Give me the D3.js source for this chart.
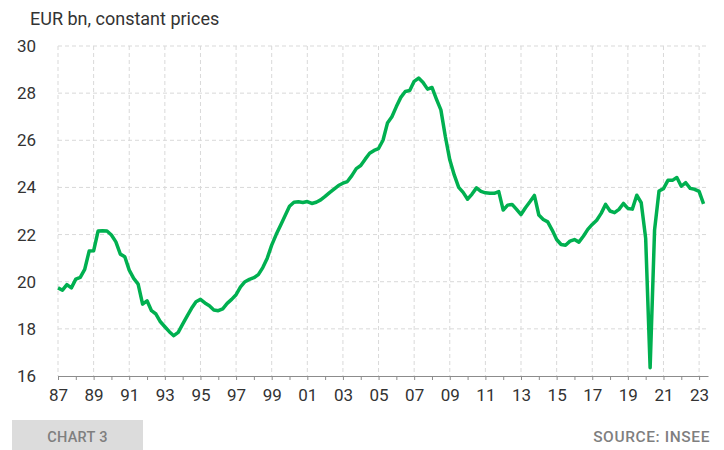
<!DOCTYPE html>
<html>
<head>
<meta charset="utf-8">
<script src="https://cdn.jsdelivr.net/npm/d3@7"></script>
<style>
  body { margin: 0; background: #fff; }
  svg { display: block; font-family: Roboto, "Noto Sans", sans-serif; }
  .grid line { stroke: #d9d9d9; stroke-dasharray: 4 3; stroke-width: 1; }
</style>
</head>
<body>
<svg id="svg-main" width="724" height="450"></svg>
<script>
// quarterly series, 1987Q1 .. 2023Q2
const startYear = 1987;
const values = [
  19.74, 19.64, 19.88, 19.74, 20.11, 20.18, 20.52, 21.3,
  21.31, 22.15, 22.16, 22.15, 21.98, 21.69, 21.17, 21.06,
  20.49, 20.14, 19.9, 19.05, 19.19, 18.77, 18.63, 18.3,
  18.09, 17.88, 17.71, 17.85, 18.2, 18.54, 18.87, 19.15,
  19.25, 19.1, 18.98, 18.8, 18.77, 18.85, 19.08, 19.25,
  19.45, 19.78, 20.0, 20.1, 20.17, 20.3, 20.6, 21.0,
  21.55, 22.0, 22.4, 22.8, 23.2, 23.37, 23.39, 23.36,
  23.4, 23.32, 23.37, 23.47, 23.62, 23.78, 23.93, 24.08,
  24.18, 24.25, 24.5, 24.8, 24.93, 25.2, 25.45, 25.57,
  25.65, 26.0, 26.73, 27.0, 27.43, 27.82, 28.07, 28.11,
  28.5, 28.64, 28.45, 28.17, 28.24, 27.75, 27.29, 26.16,
  25.17, 24.53, 24.0, 23.79, 23.5, 23.72, 23.98, 23.83,
  23.77, 23.75, 23.75, 23.82, 23.04, 23.25, 23.28, 23.07,
  22.85, 23.14, 23.39, 23.66, 22.83, 22.64, 22.54, 22.19,
  21.79, 21.58, 21.55, 21.72, 21.79, 21.68, 21.93, 22.22,
  22.43, 22.61, 22.9, 23.28, 23.0, 22.93, 23.07, 23.32,
  23.11, 23.08, 23.67, 23.35, 21.84, 16.35, 22.2, 23.85,
  23.95, 24.3, 24.3, 24.42, 24.05, 24.2, 23.96, 23.92,
  23.83, 23.3
];
const yTicks = [16, 18, 20, 22, 24, 26, 28, 30];
const labelYears = d3.range(1987, 2024, 2);
const minorYears = d3.range(1987, 2024, 1);
const unitLabel = "EUR bn, constant prices";
const chartLabel = "CHART 3";
const sourceLabel = "SOURCE: INSEE";

const data = values.map(function (v, i) {
  return { t: startYear + i / 4, v: v };
});

const svg = d3.select("#svg-main");
const plotLeft = 58, plotRight = 708, plotTop = 46, plotBottom = 376;

const x = d3.scaleLinear().domain([1987, 2023.5]).range([plotLeft, plotRight]);
const y = d3.scaleLinear().domain([16, 30]).range([plotBottom, plotTop]);

// horizontal grid
svg.append("g")
  .attr("class", "grid")
  .selectAll("line")
  .data(yTicks.filter(function (d) { return d > 16; }))
  .enter()
  .append("line")
  .attr("x1", plotLeft)
  .attr("x2", plotRight)
  .attr("y1", function (d) { return y(d); })
  .attr("y2", function (d) { return y(d); });

// vertical grid
svg.append("g")
  .attr("class", "grid")
  .selectAll("line")
  .data(labelYears)
  .enter()
  .append("line")
  .attr("x1", function (d) { return x(d); })
  .attr("x2", function (d) { return x(d); })
  .attr("y1", plotTop)
  .attr("y2", plotBottom);

// x axis: yearly ticks, labels every two years
const xAxis = svg.append("g")
  .attr("transform", "translate(0," + plotBottom + ")")
  .call(d3.axisBottom(x)
    .tickValues(minorYears)
    .tickSize(4)
    .tickSizeOuter(0)
    .tickFormat(function (d) {
      return d % 2 === 1 ? String(d).slice(2) : "";
    }));
xAxis.select(".domain").attr("stroke", "#8c8c8c").attr("stroke-width", 1.2);
xAxis.selectAll(".tick line").attr("stroke", "#8c8c8c");
xAxis.selectAll(".tick text")
  .attr("fill", "#333")
  .attr("font-size", 17)
  .attr("font-family", "Roboto")
  .attr("dy", "0.71em")
  .attr("y", 13);

// y axis labels
const yAxis = svg.append("g")
  .attr("transform", "translate(36,0)")
  .call(d3.axisLeft(y).tickValues(yTicks).tickSize(0).tickPadding(0));
yAxis.select(".domain").remove();
yAxis.selectAll(".tick text")
  .attr("fill", "#333")
  .attr("font-size", 17)
  .attr("font-family", "Roboto");

// series line
svg.append("path")
  .datum(data)
  .attr("fill", "none")
  .attr("stroke", "#00b050")
  .attr("stroke-width", 3.5)
  .attr("stroke-linejoin", "round")
  .attr("d", d3.line()
    .x(function (d) { return x(d.t); })
    .y(function (d) { return y(d.v); }));

// unit title
svg.append("text")
  .attr("x", 30)
  .attr("y", 25)
  .attr("fill", "#333")
  .attr("font-size", 18)
  .text(unitLabel);

// footer
svg.append("rect")
  .attr("x", 12)
  .attr("y", 420)
  .attr("width", 131)
  .attr("height", 30)
  .attr("fill", "#dcdcdc");

svg.append("text")
  .attr("x", 77.5)
  .attr("y", 442)
  .attr("text-anchor", "middle")
  .attr("fill", "#7f7f7f")
  .attr("font-size", 14.5)
  .attr("font-weight", 500)
  .attr("letter-spacing", 0.3)
  .text(chartLabel);

svg.append("text")
  .attr("x", 710)
  .attr("y", 442)
  .attr("text-anchor", "end")
  .attr("fill", "#7f7f7f")
  .attr("font-size", 15.5)
  .attr("font-weight", 500)
  .attr("letter-spacing", 0.6)
  .text(sourceLabel);
</script>
</body>
</html>
